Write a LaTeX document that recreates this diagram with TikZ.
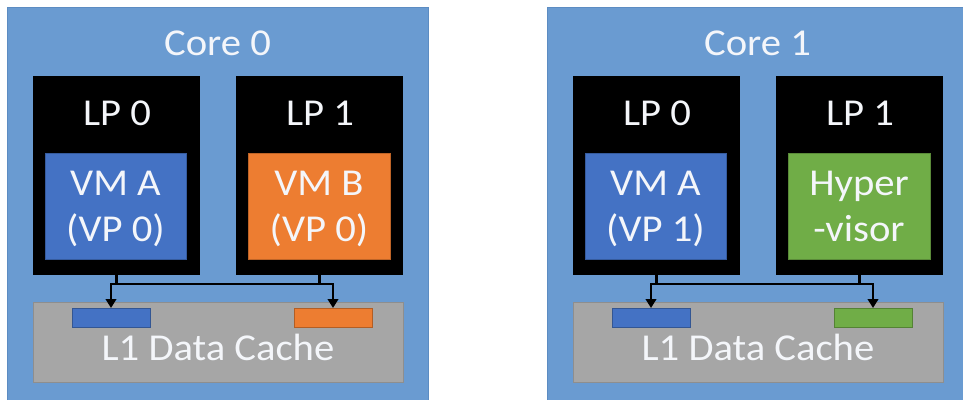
\documentclass[tikz,border=0pt]{standalone}
\usepackage{fontspec}
\setmainfont[FakeStretch=1.07]{Carlito}
\usetikzlibrary{arrows.meta}

\definecolor{corefill}{HTML}{6A9BD1}
\definecolor{coreline}{HTML}{5C8CC2}
\definecolor{vmblue}{HTML}{4472C4}
\definecolor{vmorange}{HTML}{ED7D31}
\definecolor{vmgreen}{HTML}{70AD47}
\definecolor{cachefill}{HTML}{A6A6A6}
\definecolor{cacheline}{HTML}{8E8E8E}
\definecolor{labeltext}{HTML}{F4F6FA}

\tikzset{
  plainbox/.style={anchor=north west, inner sep=0pt, outer sep=0pt},
  corebox/.style={plainbox, fill=corefill, draw=coreline, line width=0.8pt},
  lpbox/.style={plainbox, fill=black},
  vmbox/.style={plainbox, fill=#1, draw=#1!80!black, line width=0.6pt},
  cachebox/.style={plainbox, fill=cachefill, draw=cacheline, line width=0.8pt},
  slotbox/.style={plainbox, fill=#1, draw=#1!75!black, line width=0.6pt},
  caption/.style={anchor=base, inner sep=0pt, text=labeltext,
    font=\fontsize{38}{40}\selectfont},
  busline/.style={draw=black, line width=2.6pt,
    -{Triangle[width=10.5pt,length=9pt]}},
}

% One core: #1 x offset, #2 name prefix, #3 title,
% #4 colour of LP 0 task, #5/#6 its two text lines,
% #7 colour of LP 1 task, #8/#9 its two text lines
\newcommand\corepanel[9]{%
\begin{scope}[xshift=#1]
  \node[corebox, minimum width=421pt, minimum height=410pt] (#2core) at (7,7) {};
  \node[caption] (#2title) at (217.5,55) {#3};
  \node[lpbox, minimum width=167pt, minimum height=199pt] (#2lpa) at (33,76) {};
  \node[lpbox, minimum width=167pt, minimum height=199pt] (#2lpb) at (236,76) {};
  \node[caption] (#2lpalabel) at (117,125) {LP 0};
  \node[caption] (#2lpblabel) at (320,125) {LP 1};
  \node[vmbox=#4, minimum width=141pt, minimum height=106pt] (#2vma) at (45,153) {};
  \node[vmbox=#7, minimum width=142pt, minimum height=106pt] (#2vmb) at (248,153) {};
  \node[caption] (#2vmatop) at (115.5,195) {#5};
  \node[caption] (#2vmabot) at (115.5,241) {#6};
  \node[caption] (#2vmbtop) at (319,195) {#8};
  \node[caption] (#2vmbbot) at (319,241) {#9};
  \node[cachebox, minimum width=370pt, minimum height=80pt] (#2cache) at (33,302) {};
  \node[slotbox=#4, minimum width=78pt, minimum height=19pt] (#2slota) at (72,308) {};
  \node[slotbox=#7, minimum width=78pt, minimum height=19pt] (#2slotb) at (294,308) {};
  \node[caption] (#2cachelabel) at (218,360) {L1 Data Cache};
  \draw[busline] (#2lpa.south) -- ++(0,9) -| (#2slotb.north);
  \draw[busline] (#2lpb.south) -- ++(0,9) -| (#2slota.north);
\end{scope}}

\begin{document}
\begin{tikzpicture}[x=1pt, y=-1pt]
  \useasboundingbox (0,0) rectangle (963,399);
  \clip (0,0) rectangle (963,399);
  \fill[white] (0,0) rectangle (963,399);
  \corepanel{0pt}{c0}{Core 0}{vmblue}{VM A}{(VP 0)}{vmorange}{VM B}{(VP 0)}
  \corepanel{540pt}{c1}{Core 1}{vmblue}{VM A}{(VP 1)}{vmgreen}{Hyper}{-visor}
\end{tikzpicture}
\end{document}
